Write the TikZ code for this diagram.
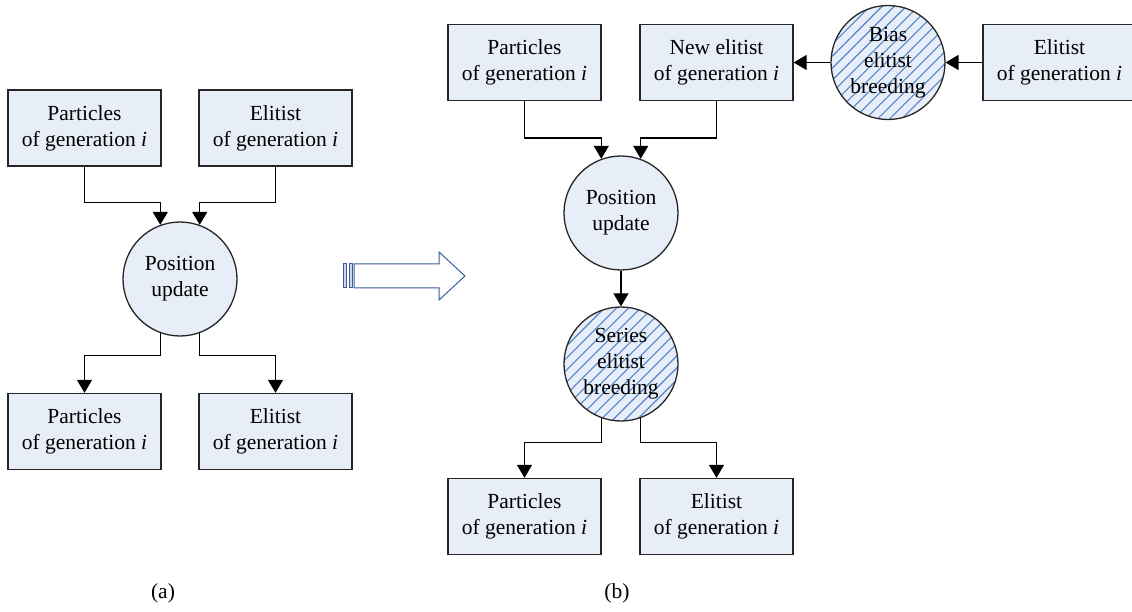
\documentclass[tikz,border=0pt]{standalone}
\usepackage{fontspec}
\setmainfont{Liberation Serif}
\usetikzlibrary{arrows.meta,positioning,shapes,patterns.meta}
\definecolor{boxfill}{HTML}{E8EEF7}
\definecolor{hatchblue}{HTML}{5283CF}
\definecolor{arrowblue}{HTML}{3A5E9C}
\tikzset{
  genbox/.style={draw=black!85,fill=boxfill,line width=1.3pt,minimum width=153pt,
                 minimum height=76pt,align=center,inner sep=2pt,
                 font=\fontsize{21.5}{26}\selectfont},
  opcirc/.style={circle,draw=black!85,fill=boxfill,line width=1.3pt,minimum size=114pt,
                 inner sep=0pt,align=center,font=\fontsize{21.5}{26}\selectfont},
  breedcirc/.style={opcirc,preaction={fill=boxfill},
                    pattern={Lines[angle=45,distance=8.5pt,line width=1.1pt]},
                    pattern color=hatchblue},
  flow/.style={-{Triangle[length=13pt,width=15pt]},line width=1.3pt},
  caption/.style={font=\fontsize{21.5}{26}\selectfont}
}

\begin{document}
\begin{tikzpicture}[x=1pt,y=-1pt]
    \useasboundingbox (0,0) rectangle (1132,612);
    % (a) plain scheme
    \node[genbox] (pa1) at (84.5,128) {Particles\\of generation \textit{i}};
    \node[genbox] (ea1) at (275.5,128) {Elitist\\of generation \textit{i}};
    \node[opcirc] (pu1) at (180,279) {Position\\update};
    \node[genbox] (pa2) at (84.5,431.5) {Particles\\of generation \textit{i}};
    \node[genbox] (ea2) at (275.5,431.5) {Elitist\\of generation \textit{i}};
    \draw[flow] (pa1.south) -- ++(0,36) -| (pu1.110);
    \draw[flow] (ea1.south) -- ++(0,36) -| (pu1.70);
    \draw[flow] (pu1.250) -- ++(0,22) -| (pa2.north);
    \draw[flow] (pu1.290) -- ++(0,22) -| (ea2.north);
    % hollow arrow between the panels
    \draw[arrowblue,line width=1pt,fill=white]
      (354,264) -- (439,264) -- (439,252) -- (465,276) -- (439,300)
      -- (439,288) -- (354,288) -- cycle;
    \foreach \bx in {343.5,349.5}{
      \draw[arrowblue,line width=1pt,fill=arrowblue!25] (\bx,264) rectangle ++(3,24);
    }
    % (b) scheme with elitist breeding
    \node[genbox] (pb1) at (524.5,62.5) {Particles\\of generation \textit{i}};
    \node[genbox] (ne) at (716.5,62.5) {New elitist\\of generation \textit{i}};
    \node[breedcirc] (bias) at (888,62.5) {Bias\\elitist\\breeding};
    \node[genbox] (eb1) at (1059.5,62.5) {Elitist\\of generation \textit{i}};
    \node[opcirc] (pu2) at (621,213) {Position\\update};
    \node[breedcirc] (se) at (621,364) {Series\\elitist\\breeding};
    \node[genbox] (pb2) at (524.5,516.5) {Particles\\of generation \textit{i}};
    \node[genbox] (eb2) at (716.5,516.5) {Elitist\\of generation \textit{i}};
    \draw[flow] (eb1.west) -- (bias.east);
    \draw[flow] (bias.west) -- (ne.east);
    \draw[flow] (pb1.south) -- ++(0,37) -| (pu2.110);
    \draw[flow] (ne.south) -- ++(0,37) -| (pu2.70);
    \draw[flow] (pu2.south) -- (se.north);
    \draw[flow] (se.250) -- ++(0,24) -| (pb2.north);
    \draw[flow] (se.290) -- ++(0,24) -| (eb2.north);
    % captions
    \node[caption] (capa) at (163,593) {(a)};
    \node[caption] (capb) at (617,593) {(b)};
\end{tikzpicture}
\end{document}
